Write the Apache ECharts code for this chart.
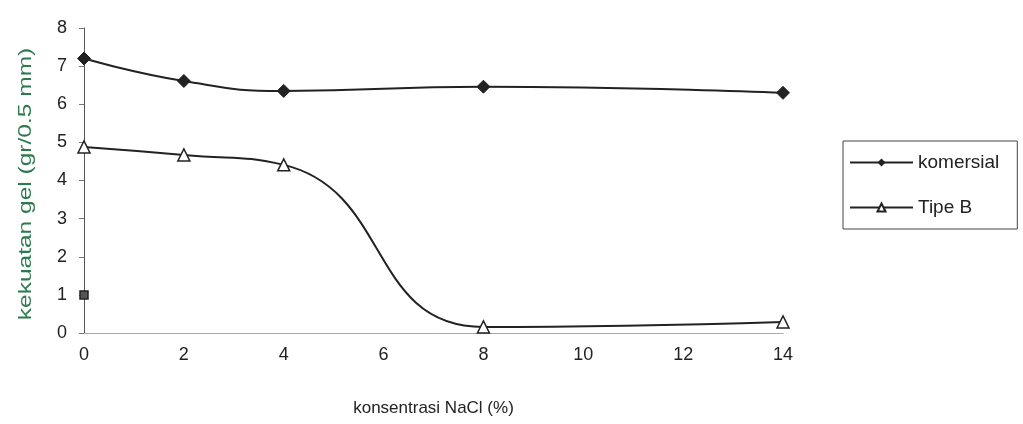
<!DOCTYPE html>
<html>
<head>
<meta charset="utf-8">
<script src="https://cdn.jsdelivr.net/npm/echarts@6/dist/echarts.min.js"></script>
<style>
  html, body { margin: 0; padding: 0; background: #fff; }
  #chart { width: 1023px; height: 424px; }
</style>
</head>
<body>
<div id="chart"></div>
<script>
// NaCl concentration (%) at which gel strength was measured
const nacl = [0, 2, 4, 8, 14];
// Gel strength (gr/0.5 mm)
const komersial = [7.2, 6.61, 6.35, 6.46, 6.3];
const tipeB = [4.88, 4.67, 4.41, 0.16, 0.29];
// Single extra reading at 0 % NaCl
const extraX = [0];
const extraY = [1.0];

const xTicks = { min: 0, max: 14, interval: 2 };
const yTicks = { min: 0, max: 8, interval: 1 };

const yTitle = 'kekuatan gel (gr/0.5 mm)';
const xTitle = 'konsentrasi NaCl (%)';

const pairs = (xs, ys) => xs.map((x, i) => [x, ys[i]]);

const font = 'Liberation Sans, Arial, sans-serif';
const ink = '#222';

const chart = echarts.init(document.getElementById('chart'));
chart.setOption({
  backgroundColor: '#fff',
  animation: false,
  textStyle: { fontFamily: font },
  grid: { left: 84, right: 240, top: 28, bottom: 91 },
  // vertical axis title, drawn a little stretched along its length
  graphic: [{
    type: 'text',
    x: 26,
    y: 184,
    rotation: Math.PI / 2,
    scaleX: 1.29,
    scaleY: 1,
    style: {
      text: yTitle,
      font: '19px Liberation Sans, Arial, sans-serif',
      fill: '#2d7a4e',
      align: 'center',
      verticalAlign: 'middle',
      textAlign: 'center',
      textVerticalAlign: 'middle'
    }
  }],
  legend: {
    data: ['komersial', 'Tipe B'],
    orient: 'vertical',
    left: 843,
    top: 141,
    padding: [12, 18, 12, 6],
    itemGap: 26,
    itemWidth: 63,
    itemHeight: 10,
    borderColor: '#444',
    borderWidth: 1,
    textStyle: { fontFamily: font, fontSize: 19, color: ink }
  },
  xAxis: {
    type: 'value',
    min: xTicks.min,
    max: xTicks.max,
    interval: xTicks.interval,
    name: xTitle,
    nameLocation: 'middle',
    nameGap: 67,
    nameTextStyle: { fontFamily: font, fontSize: 17, color: ink },
    axisLine: { lineStyle: { color: '#aaa', width: 1 } },
    axisTick: { show: false },
    splitLine: { show: false },
    axisLabel: { fontFamily: font, fontSize: 18, color: ink, margin: 13 }
  },
  yAxis: {
    type: 'value',
    min: yTicks.min,
    max: yTicks.max,
    interval: yTicks.interval,
    axisLine: { show: true, lineStyle: { color: '#555', width: 1 } },
    axisTick: { show: true, inside: false, length: 5, lineStyle: { color: '#777' } },
    splitLine: { show: false },
    axisLabel: { fontFamily: font, fontSize: 18, color: ink, margin: 17 }
  },
  series: [
    {
      name: 'komersial',
      type: 'line',
      data: pairs(nacl, komersial),
      smooth: 0.5,
      symbol: 'diamond',
      symbolSize: 13,
      lineStyle: { color: '#222', width: 2 },
      itemStyle: { color: '#222', borderColor: '#222' }
    },
    {
      name: 'Tipe B',
      type: 'line',
      data: pairs(nacl, tipeB),
      smooth: 0.5,
      symbol: 'triangle',
      symbolSize: 12,
      lineStyle: { color: '#222', width: 2 },
      itemStyle: { color: '#fff', borderColor: '#222', borderWidth: 1.5 }
    },
    {
      name: 'titik',
      type: 'line',
      data: pairs(extraX, extraY),
      symbol: 'rect',
      symbolSize: 8,
      lineStyle: { width: 0 },
      itemStyle: { color: '#555', borderColor: '#222', borderWidth: 1.5 }
    }
  ]
});
</script>
</body>
</html>
